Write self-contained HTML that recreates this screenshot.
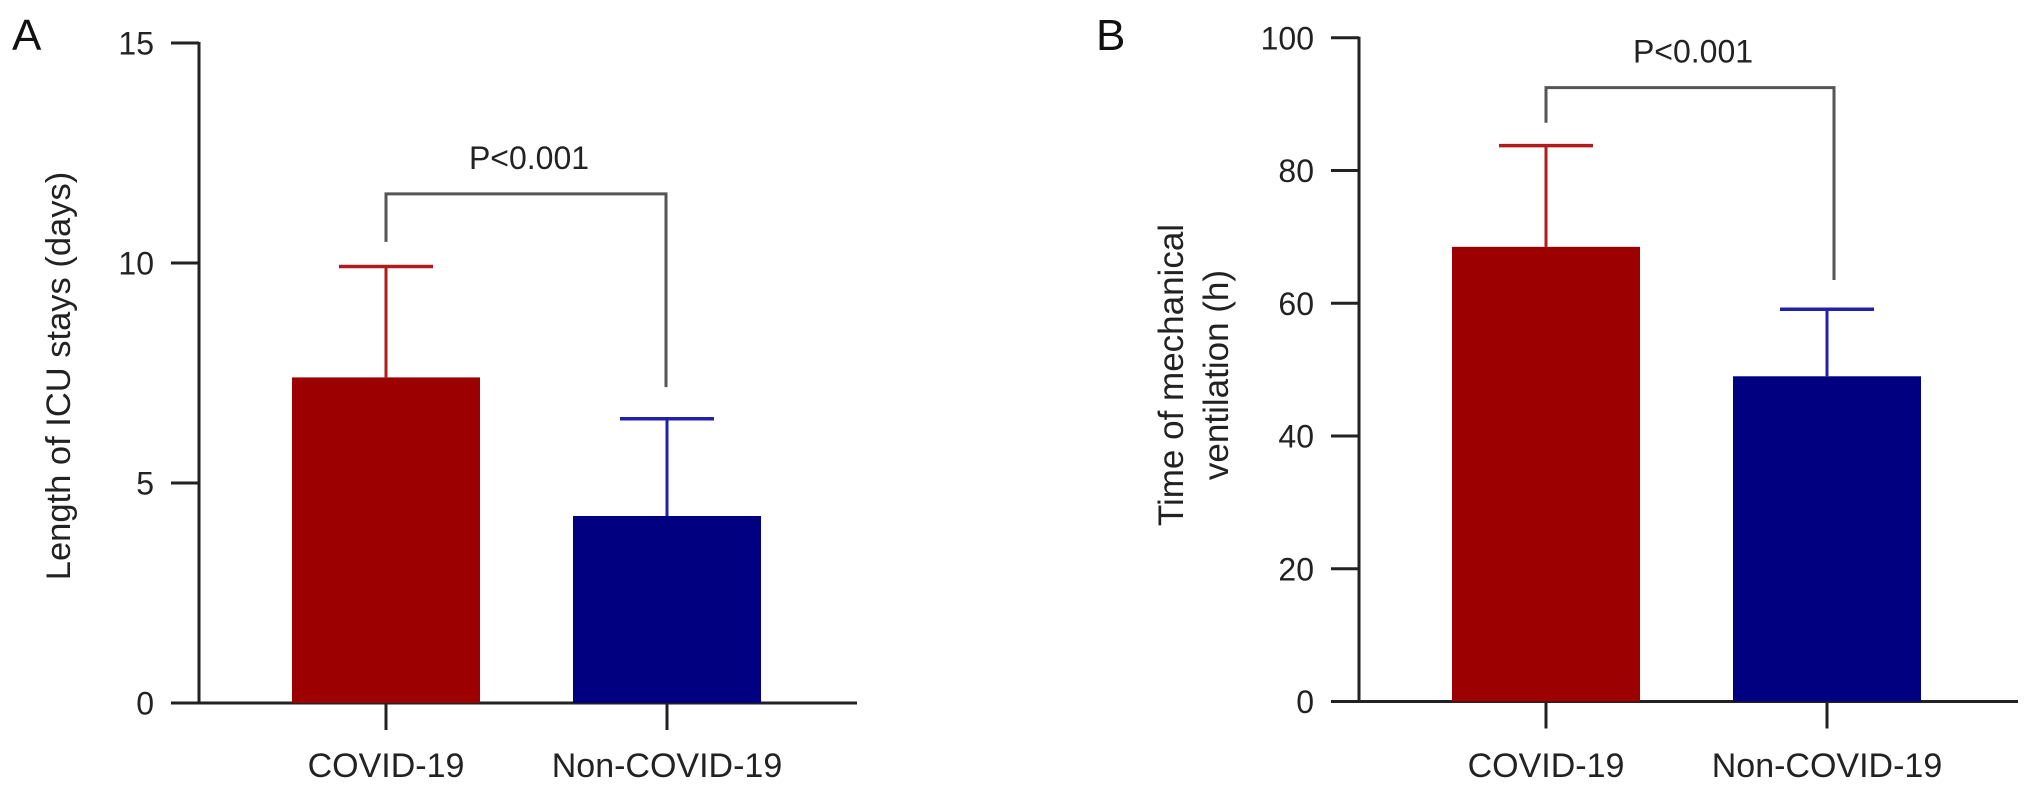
<!DOCTYPE html>
<html>
<head>
<meta charset="utf-8">
<style>
  html, body { margin: 0; padding: 0; background: #fff; }
  svg { display: block; font-family: "Liberation Sans", Arial, sans-serif; }
</style>
</head>
<body>
<svg id="fig" width="2032" height="791" viewBox="0 0 2032 791" xmlns="http://www.w3.org/2000/svg"></svg>
<script>
// ---- Panel A data ----
const categoriesA = ["COVID-19", "Non-COVID-19"];
const meansA = [7.4, 4.25];
const errorsA = [9.92, 6.46];
const ticksA = [0, 5, 10, 15];
const bracketA = [11.57, 10.48, 7.18]; // top, left foot, right foot
// ---- Panel B data ----
const categoriesB = ["COVID-19", "Non-COVID-19"];
const meansB = [68.5, 49.0];
const errorsB = [83.75, 59.1];
const ticksB = [0, 20, 40, 60, 80, 100];
const bracketB = [92.5, 87.2, 63.5];

const NS = "http://www.w3.org/2000/svg";
const svg = document.getElementById("fig");
const barColors = ["#9c0000", "#000080"];
const errColors = ["#b01c1c", "#2020a8"];

function mk(tag, attrs, parent) {
  const e = document.createElementNS(NS, tag);
  for (const k in attrs) e.setAttribute(k, attrs[k]);
  (parent || svg).appendChild(e);
  return e;
}

function drawPanel(cfg) {
  const g = mk("g", {});
  
  
  const y = v => cfg.y0 - (v / cfg.max) * (cfg.y0 - cfg.yTop);
  const xc = i => cfg.x0 + 187 + 281 * i;

  const L = mk("text", {x: cfg.letterX, y: 50, "font-size": 44, fill: "#111"}, g);
  L.textContent = cfg.letter;
  
  

  const ya = mk("line", {x1: cfg.x0, y1: y(cfg.max) - 1, x2: cfg.x0, y2: cfg.y0 + 1.5, stroke: "#222", "stroke-width": 3}, g);
  
  
  cfg.ticks.forEach(t => {
    const tl = mk("line", {x1: cfg.x0 - 28, y1: y(t), x2: cfg.x0, y2: y(t), stroke: "#222", "stroke-width": 3}, g);
    
    
    const tx = mk("text", {x: cfg.x0 - 45, y: y(t) + 11.5, "font-size": 32, "text-anchor": "end", fill: "#222"}, g);
    tx.textContent = t;
    
    
  });

  const xa = mk("line", {x1: cfg.x0 - 28, y1: cfg.y0, x2: cfg.xEnd, y2: cfg.y0, stroke: "#222", "stroke-width": 3}, g);
  
  

  cfg.cats.forEach((c, i) => {
    const cx = xc(i);
    const bar = mk("rect", {x: cx - 94, y: y(cfg.means[i]), width: 188, height: cfg.y0 - y(cfg.means[i]), fill: barColors[i]}, g);
    
    
    const ev = mk("line", {x1: cx, y1: y(cfg.means[i]), x2: cx, y2: y(cfg.errs[i]), stroke: errColors[i], "stroke-width": 3}, g);
    
    
    const ec = mk("line", {x1: cx - 47, y1: y(cfg.errs[i]), x2: cx + 47, y2: y(cfg.errs[i]), stroke: errColors[i], "stroke-width": 3.5}, g);
    
    
    const tk = mk("line", {x1: cx, y1: cfg.y0, x2: cx, y2: cfg.y0 + 27, stroke: "#222", "stroke-width": 3}, g);
    
    
    const lb = mk("text", {x: cx, y: 777, "font-size": 34, "text-anchor": "middle", fill: "#222"}, g);
    lb.textContent = c;
    
    
  });

  const bx1 = xc(0), bx2 = xc(1) + cfg.bracketShift;
  const br = mk("polyline", {points: `${bx1},${y(cfg.bracket[1])} ${bx1},${y(cfg.bracket[0])} ${bx2},${y(cfg.bracket[0])} ${bx2},${y(cfg.bracket[2])}`, fill: "none", stroke: "#555", "stroke-width": 3}, g);
  
  
  const pt = mk("text", {x: (bx1 + bx2) / 2 + 3, y: y(cfg.bracket[0]) - 25, "font-size": 32, "text-anchor": "middle", fill: "#222"}, g);
  pt.textContent = "P<0.001";
  
  

  cfg.title.forEach((line, k) => {
    const tx = cfg.titleX[k];
    const t = mk("text", {x: tx, y: cfg.titleY, "font-size": cfg.titleSize, "text-anchor": "middle", fill: "#222", transform: `rotate(-90 ${tx} ${cfg.titleY})`}, g);
    t.textContent = line;
    
    
  });
}

drawPanel({name: "panel-a", letter: "A", letterX: 12, x0: 199, y0: 703, yTop: 43, max: 15, xEnd: 857,
  cats: categoriesA, means: meansA, errs: errorsA, ticks: ticksA, bracket: bracketA, bracketShift: -1,
  title: ["Length of ICU stays (days)"], titleX: [70], titleY: 376, titleSize: 34.5});
drawPanel({name: "panel-b", letter: "B", letterX: 1096, x0: 1359, y0: 701.5, yTop: 37.8, max: 100, xEnd: 2018,
  cats: categoriesB, means: meansB, errs: errorsB, ticks: ticksB, bracket: bracketB, bracketShift: 7,
  title: ["Time of mechanical", "ventilation (h)"], titleX: [1183, 1228], titleY: 375, titleSize: 35});
</script>
</body>
</html>
